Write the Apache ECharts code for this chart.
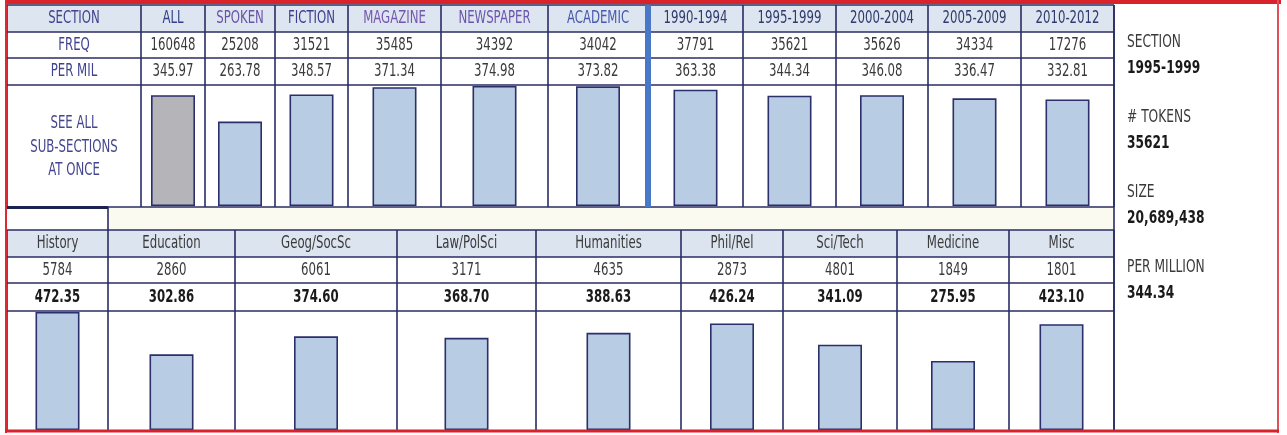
<!DOCTYPE html>
<html>
<head>
<meta charset="utf-8">
<script src="https://cdn.jsdelivr.net/npm/echarts@6/dist/echarts.min.js"></script>
<style>html,body{margin:0;padding:0;background:#fff}#c{width:1287px;height:435px}</style>
</head>
<body>
<div id="c"></div>
<script>
// ---------- DATA ----------
const topSections = ['ALL','SPOKEN','FICTION','MAGAZINE','NEWSPAPER','ACADEMIC','1990-1994','1995-1999','2000-2004','2005-2009','2010-2012'];
const topFreq = [160648,25208,31521,35485,34392,34042,37791,35621,35626,34334,17276];
const topPerMil = [345.97,263.78,348.57,371.34,374.98,373.82,363.38,344.34,346.08,336.47,332.81];
const subSections = ['History','Education','Geog/SocSc','Law/PolSci','Humanities','Phil/Rel','Sci/Tech','Medicine','Misc'];
const subFreq = [5784,2860,6061,3171,4635,2873,4801,1849,1801];
const subPerMil = [472.35,302.86,374.60,368.70,388.63,426.24,341.09,275.95,423.10];
const rowLabels = ['SECTION','FREQ','PER MIL'];
const seeAllText = ['SEE ALL','SUB-SECTIONS','AT ONCE'];
const infoLabels = ['SECTION','# TOKENS','SIZE','PER MILLION'];
const infoValues = ['1995-1999','35621','20,689,438','344.34'];

// ---------- LAYOUT / STYLE ----------
const topEdges = [7,141,205,275,348,441,548,648,743,836,928,1021,1114];
const topRows = [5,32,58,85,207];
const botEdges = [7,108,235,397,536,681,783,897,1009,1114];
const botRows = [230,257,283,311,430];
const topMax = 378, botMax = 476;
const hdrColors = ['#33418a','#6a52a8','#3b3f8e','#7657ae','#6b55ae','#4759ad','#2f3c6c','#2f3c6c','#2f3c6c','#2f3c6c','#2f3c6c'];
const lineCol = '#2a2c64';
const FONT = 'DejaVu Sans';
const SX = 0.69;

const graphics = [];
function rect(x,y,w,h,fill,z){graphics.push({type:'rect',shape:{x,y,width:w,height:h},style:{fill},z:z||0,silent:true});}
function line(x1,y1,x2,y2,stroke,w,z){graphics.push({type:'line',shape:{x1,y1,x2,y2},style:{stroke,lineWidth:w},z:z||10,silent:true});}
function text(x,y,t,color,opts){
  opts=opts||{};
  graphics.push({type:'text',x,y,scaleX:opts.sx||SX,z:20,silent:true,
    style:{text:t,fill:color,font:(opts.bold?'bold ':'')+(opts.size||17)+'px "'+FONT+'"',
      align:opts.align||'center',verticalAlign:'middle'}});
}

// backgrounds
rect(7,topRows[0],topEdges[topEdges.length-1]-7,topRows[1]-topRows[0],'#dde5f1');
rect(7,207,1107,23,'#fbfaf1');
rect(7,207,101,23,'#ffffff');
rect(7,botRows[0],1107,botRows[1]-botRows[0],'#dce4f0');

// top table lines
topRows.forEach(y=>line(7,y,1114,y,lineCol,1.6));
topEdges.forEach(x=>line(x,topRows[0],x,207,lineCol,1.6));
line(648,topRows[0],648,207,'#4a78c8',6,11);
// gap box
line(7,207.5,108,207.5,'#1c2352',3,12);
line(108,207,108,230,lineCol,1.6);
// bottom table lines
botRows.slice(0,4).forEach(y=>line(7,y,1114,y,lineCol,1.6));
botEdges.forEach(x=>line(x,botRows[0],x,430,lineCol,1.6));
line(1114,5,1114,430,lineCol,1.6);

// red frame
rect(5,0,1276,4,'#d9232b',30);
rect(5,0,2,433,'#dc2a30',30);
rect(1277,0,2,433,'#e05058',30);
rect(5,429.5,1274,3,'#d9232b',30);

// top table texts
const topMidY = i => (topRows[i]+topRows[i+1])/2;
rowLabels.forEach((t,i)=>text((topEdges[0]+topEdges[1])/2,topMidY(i)+0.5,t,'#40438e'));
seeAllText.forEach((t,i)=>text((topEdges[0]+topEdges[1])/2,124+i*23.5,t,'#44468f'));
topSections.forEach((s,i)=>{
  const cx=(topEdges[i+1]+topEdges[i+2])/2;
  text(cx,topMidY(0)+0.5,s,hdrColors[i]);
  text(cx,topMidY(1)+0.5,String(topFreq[i]),'#3a3a3a');
  text(cx,topMidY(2)+0.5,topPerMil[i].toFixed(2),'#3a3a3a');
});
// bottom table texts
const botMidY = i => (botRows[i]+botRows[i+1])/2;
subSections.forEach((s,i)=>{
  const cx=(botEdges[i]+botEdges[i+1])/2;
  text(cx,botMidY(0)+0.5,s,'#3a3a3a');
  text(cx,botMidY(1)+0.5,String(subFreq[i]),'#3a3a3a');
  text(cx,botMidY(2)+0.5,subPerMil[i].toFixed(2),'#1a1a1a',{bold:true});
});
// info panel
const infoY=[43,118,193,268];
infoLabels.forEach((t,i)=>{
  text(1127,infoY[i],t,'#3a3a3a',{align:'left',sx:0.72,size:17});
  text(1127,infoY[i]+26,infoValues[i],'#1a1a1a',{align:'left',bold:true,sx:0.72,size:17});
});

// ---------- GRIDS & BARS ----------
const grid=[],xAxis=[],yAxis=[],series=[];
function addBar(name,value,left,right,top,bottom,max,color){
  const idx=grid.length;
  grid.push({left:left,width:right-left,top:top,height:bottom-top,containLabel:false});
  xAxis.push({type:'category',gridIndex:idx,data:[name],show:false});
  yAxis.push({type:'value',gridIndex:idx,min:0,max:max,show:false});
  series.push({type:'bar',xAxisIndex:idx,yAxisIndex:idx,data:[value],barWidth:44,silent:true,z:5,
    itemStyle:{color:color,borderColor:'#2b2f6b',borderWidth:1.6}});
}
topSections.forEach((s,i)=>addBar(s,topPerMil[i],topEdges[i+1],topEdges[i+2],85,206,topMax,i===0?'#b4b4b9':'#b8cce4'));
subSections.forEach((s,i)=>addBar(s,subPerMil[i],botEdges[i],botEdges[i+1],311,430,botMax,'#b8cce4'));

const chart=echarts.init(document.getElementById('c'),null,{renderer:'canvas'});
chart.setOption({
  animation:false,
  backgroundColor:'#ffffff',
  grid,xAxis,yAxis,series,
  graphic:{elements:graphics}
});
</script>
</body>
</html>
